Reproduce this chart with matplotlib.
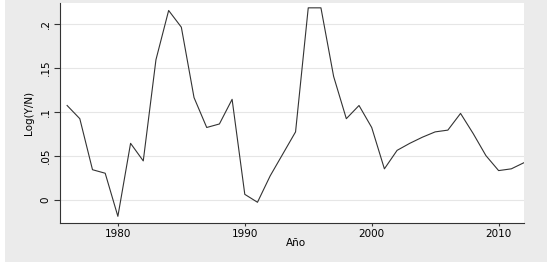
import numpy as np
import matplotlib.pyplot as plt
from matplotlib.patches import Rectangle

plt.rcParams['font.family'] = ['DejaVu Sans']

years = list(range(1976, 2013))
log_yn = [0.107, 0.092, 0.034, 0.030, -0.019, 0.064, 0.044, 0.159, 0.215, 0.196,
          0.116, 0.082, 0.086, 0.114, 0.006, -0.003, 0.027, 0.052, 0.077, 0.218,
          0.218, 0.140, 0.092, 0.107, 0.082, 0.035, 0.056, 0.064, 0.071, 0.077,
          0.079, 0.098, 0.075, 0.050, 0.033, 0.035, 0.042]
xticks = [1980, 1990, 2000, 2010]
yticks = [0, 0.05, 0.1, 0.15, 0.2]
ylabels = ['0', '.05', '.1', '.15', '.2']

fig = plt.figure(figsize=(5.53, 2.66), dpi=100)
fig.patch.set_facecolor('white')
# grey Stata-like outer region
fig.patches.append(Rectangle((5 / 553, 4 / 266), 542 / 553, 262 / 266,
                             transform=fig.transFigure, facecolor='#ebebeb',
                             edgecolor='none', zorder=-1))

ax = fig.add_axes([59.5 / 553, 1 - 222.5 / 266, 464.5 / 553, 219.5 / 266])
ax.set_facecolor('white')
ax.plot(years, log_yn, color='#333333', linewidth=0.8)

ax.set_xlim(1975.4, 2012.0)
ax.set_ylim(-0.026, 0.2235)
ax.set_xticks(xticks)
ax.set_yticks(yticks)
ax.set_yticklabels(ylabels, rotation=90, va='center')
ax.tick_params(axis='x', labelsize=7.5, length=2.5, width=0.8, color='#333333', pad=2.5)
ax.tick_params(axis='y', labelsize=7.5, length=4, width=0.8, color='#333333', pad=2.5)
ax.grid(axis='y', color='#e6e6e6', linewidth=0.8)
ax.set_axisbelow(True)

for s in ['top', 'right']:
    ax.spines[s].set_visible(False)
for s in ['left', 'bottom']:
    ax.spines[s].set_linewidth(0.8)
    ax.spines[s].set_color('#333333')

ax.set_xlabel('Año', fontsize=7.5, labelpad=-2)
ax.xaxis.set_label_coords(0.51, -0.07)
ax.set_ylabel('Log(Y/N)', fontsize=7.5, labelpad=5)

fig.savefig('out.png', dpi=100)
